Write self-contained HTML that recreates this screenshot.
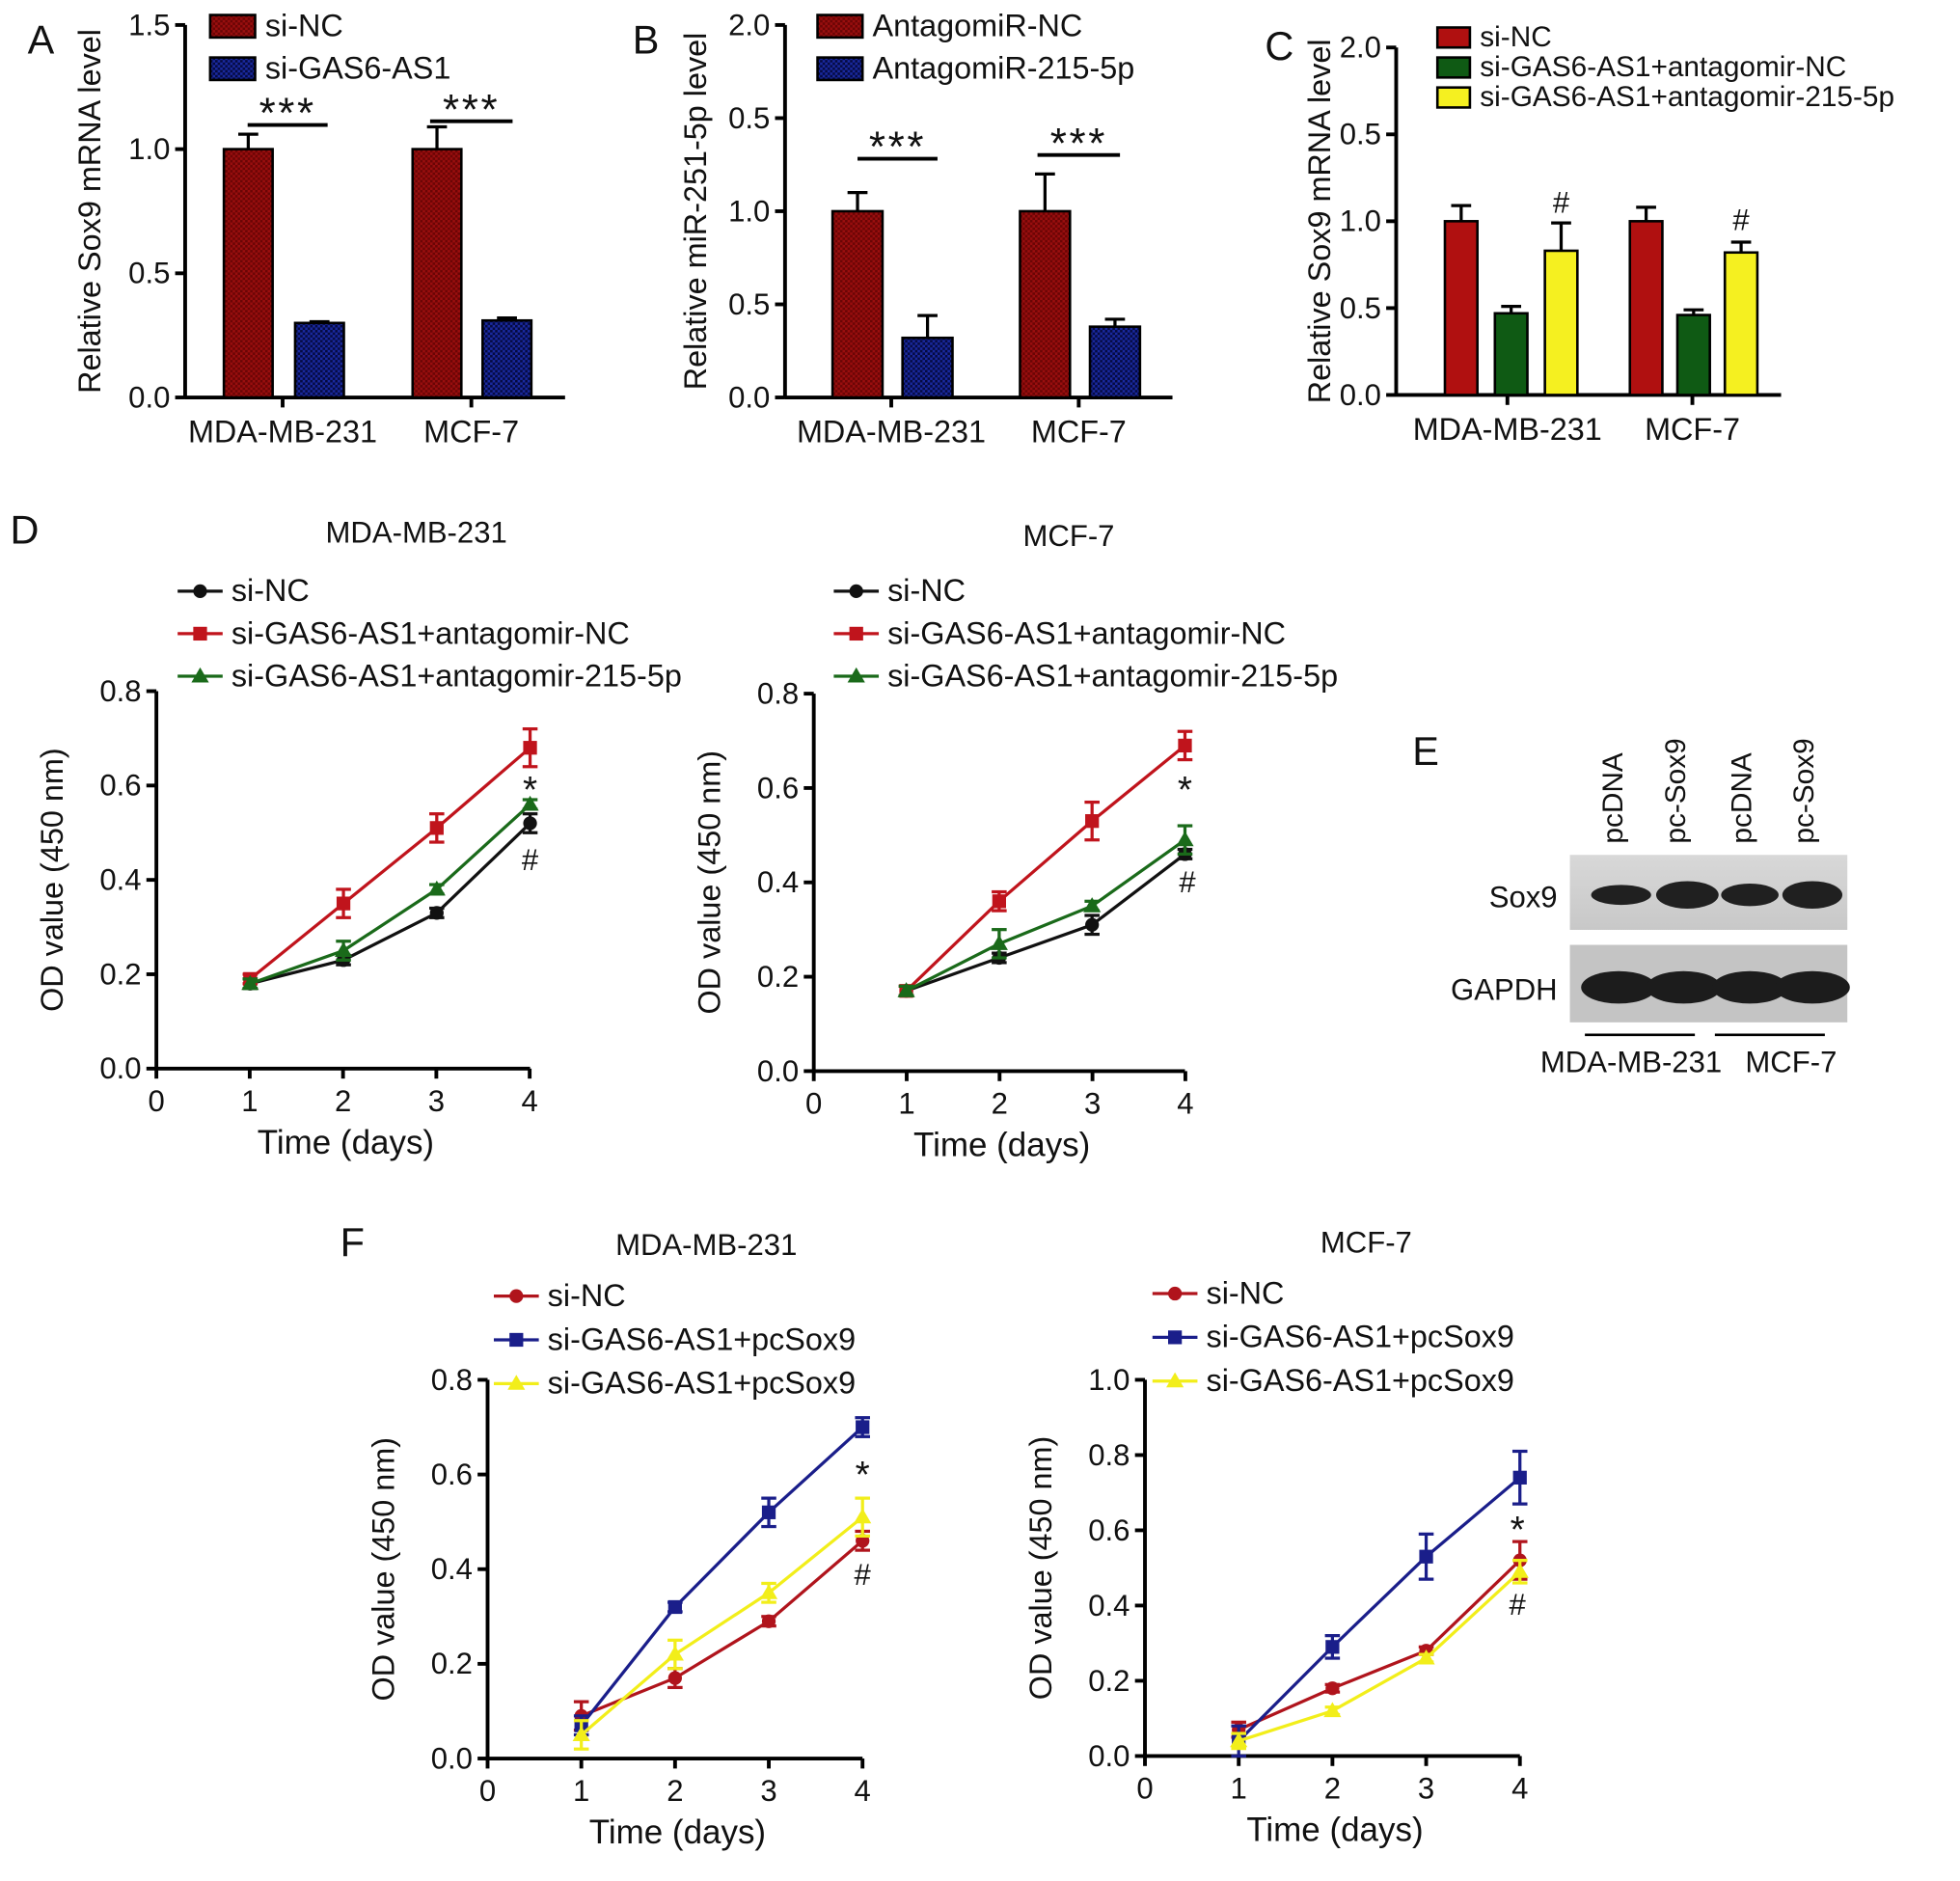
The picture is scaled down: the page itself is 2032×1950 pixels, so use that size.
<!DOCTYPE html>
<html><head><meta charset="utf-8"><style>
html,body{margin:0;padding:0;background:#fff;}
svg{display:block;font-family:"Liberation Sans",Arial,sans-serif;}
</style></head><body>
<svg id="fig" width="2032" height="1950" viewBox="0 0 1568 1505" xmlns="http://www.w3.org/2000/svg">
<defs>
<pattern id="hr" width="4" height="4" patternUnits="userSpaceOnUse"><rect width="4" height="4" fill="#9a0e0e"/><rect width="2" height="2" fill="#6a0505"/><rect x="2" y="2" width="2" height="2" fill="#6a0505"/></pattern>
<pattern id="hb" width="4" height="4" patternUnits="userSpaceOnUse"><rect width="4" height="4" fill="#1a2aa0"/><rect width="2" height="2" fill="#050a40"/><rect x="2" y="2" width="2" height="2" fill="#050a40"/></pattern>
<linearGradient id="blot" x1="0" y1="0" x2="0" y2="1"><stop offset="0" stop-color="#d8d8d8"/><stop offset="1" stop-color="#c8c8c8"/></linearGradient>
</defs>
<g id="root"></g>
</svg>
<script>
// ---- data ----
const barCats = ["MDA-MB-231","MCF-7"];
const aVals = [[1.0,0.30],[1.0,0.31]];
const aErr = [[0.06,0.005],[0.09,0.01]];
const bVals = [[1.0,0.32],[1.0,0.38]];
const bErr = [[0.10,0.12],[0.20,0.04]];
const cVals = [[1.0,0.47,0.83],[1.0,0.46,0.82]];
const cErr = [[0.09,0.04,0.16],[0.08,0.03,0.06]];
const days = [1,2,3,4];
const dL_nc = [0.18,0.23,0.33,0.52], dL_red=[0.19,0.35,0.51,0.68], dL_grn=[0.18,0.25,0.38,0.56];
const dL_ncE=[0.01,0.01,0.01,0.02], dL_redE=[0.01,0.03,0.03,0.04], dL_grnE=[0.01,0.02,0.01,0.01];
const dR_nc = [0.17,0.24,0.31,0.46], dR_red=[0.17,0.36,0.53,0.69], dR_grn=[0.17,0.27,0.35,0.49];
const dR_ncE=[0.01,0.01,0.02,0.01], dR_redE=[0.01,0.02,0.04,0.03], dR_grnE=[0.01,0.03,0.01,0.03];
const fL_nc=[0.09,0.17,0.29,0.46], fL_blu=[0.07,0.32,0.52,0.70], fL_yel=[0.05,0.22,0.35,0.51];
const fL_ncE=[0.03,0.02,0.01,0.02], fL_bluE=[0.02,0.01,0.03,0.02], fL_yelE=[0.03,0.03,0.02,0.04];
const fR_nc=[0.07,0.18,0.28,0.52], fR_blu=[0.04,0.29,0.53,0.74], fR_yel=[0.04,0.12,0.26,0.49];
const fR_ncE=[0.02,0.01,0.01,0.05], fR_bluE=[0.04,0.03,0.06,0.07], fR_yelE=[0.02,0.01,0.01,0.03];
// ---- helpers ----
const NS="http://www.w3.org/2000/svg";
const root=document.getElementById('root');
function el(tag,attrs,parent){const e=document.createElementNS(NS,tag);for(const k in attrs)e.setAttribute(k,attrs[k]);(parent||root).appendChild(e);return e;}
function txt(x,y,s,size,anchor,parent,extra){const t=el('text',Object.assign({x:x,y:y,'font-size':size,'text-anchor':anchor||'start',fill:'#111'},extra||{}),parent);t.textContent=s;return t;}
function line(x1,y1,x2,y2,w,c,parent){return el('line',{x1,y1,x2,y2,stroke:c||'#000','stroke-width':w||2},parent);}
function yAxis(g,x,y0,y1,ticks,labels,max,title,tx){
  line(x,y0+1,x,y1,3,'#000',g);
  ticks.forEach((v,i)=>{const y=y0-(y0-y1)*v/max;line(x-8,y,x,y,3,'#000',g);txt(x-12,y+8,labels[i],24,'end',g);});
  txt(tx,(y0+y1)/2,title,25,'middle',g,{transform:`rotate(-90 ${tx} ${(y0+y1)/2})`});
}
function barPanel(name,ax,y0,y1,xend,max,ticks,labels,vals,errs,fills,starts,w,labX,title,tx){
  const g=el('g',{});
  yAxis(g,ax,y0,y1,ticks,labels,max,title,tx);
  line(ax,y0,xend,y0,3,'#000',g);
  const sy=v=>y0-(y0-y1)*v/max;
  vals.forEach((grp,gi)=>grp.forEach((v,si)=>{
    const x=starts[gi][si];
    const top=sy(v+errs[gi][si]);
    line(x+w/2,sy(v),x+w/2,top,2.5,'#000',g);line(x+w/2-8,top,x+w/2+8,top,2.5,'#000',g);
    const r=el('rect',{x:x,y:sy(v),width:w,height:y0-sy(v),fill:fills[si],stroke:'#000','stroke-width':2},g);
    
  }));
  barCats.forEach((c,i)=>{line(labX[i],y0,labX[i],y0+8,3,'#000',g);txt(labX[i],y0+36,c,25,'middle',g);});
  return g;
}
function linePanel(name,ax,y0,y1,x1pos,x4pos,max,ticks,labels,series,colors,markers,errs){
  const g=el('g',{});
  const dx=(x4pos-x1pos)/3, sx=d=>x1pos+(d-1)*dx, sy=v=>y0-(y0-y1)*v/max;
  yAxis(g,ax,y0,y1,ticks,labels,max,'OD value (450 nm)',ax-75);
  line(ax,y0,x4pos,y0,3,'#000',g);
  [0,1,2,3,4].forEach(d=>{const x=ax+d*dx;line(x,y0,x,y0+8,3,'#000',g);txt(x,y0+34,String(d),24,'middle',g);});
  txt((ax+x4pos)/2+2,y0+68,'Time (days)',27,'middle',g);
  series.forEach((s,si)=>{
    const pts=days.map((d,i)=>sx(d)+','+sy(s[i])).join(' ');
    const p=el('polyline',{points:pts,fill:'none',stroke:colors[si],'stroke-width':2.5},g);
    
    days.forEach((d,i)=>{
      const x=sx(d),y=sy(s[i]),e=errs[si][i];
      line(x,sy(s[i]-e),x,sy(s[i]+e),2.5,colors[si],g);
      line(x-6,sy(s[i]+e),x+6,sy(s[i]+e),2.5,colors[si],g);line(x-6,sy(s[i]-e),x+6,sy(s[i]-e),2.5,colors[si],g);
      marker(g,markers[si],x,y,colors[si]);
    });
  });
  return {g,sx,sy};
}
function marker(g,m,x,y,c){
  if(m==='c')el('circle',{cx:x,cy:y,r:5.5,fill:c},g);
  else if(m==='s')el('rect',{x:x-5.5,y:y-5.5,width:11,height:11,fill:c},g);
  else el('polygon',{points:`${x},${y-7} ${x-7},${y+5} ${x+7},${y+5}`,fill:c},g);
}
function legend(g,x,y0,step,items,colors,markers,size){
  items.forEach((s,i)=>{const y=y0+i*step;line(x-18,y,x+18,y,2.5,colors[i],g);marker(g,markers[i],x,y,colors[i]);txt(x+25,y+8,s,size||25,'start',g);});
}
function boxLegend(g,x,y0,step,items,fills,w,h,size){
  items.forEach((s,i)=>{const y=y0+i*step;el('rect',{x:x,y:y,width:w,height:h,fill:fills[i],stroke:'#000','stroke-width':2},g);txt(x+w+8,y+h-1,s,size,'start',g);});
}
function sig(g,x1,x2,y,s){line(x1,y,x2,y,3,'#000',g);txt((x1+x2)/2,y+2,s,34,'middle',g,{'letter-spacing':'2'});}
// ---- Panel A ----
let g=barPanel('panel-a',148,318,20,452,1.5,[0,0.5,1,1.5],['0.0','0.5','1.0','1.5'],aVals,aErr,['url(#hr)','url(#hb)'],[[179,236],[330,386]],39,[226,377],'Relative Sox9 mRNA level',80);
boxLegend(g,168,12,34,['si-NC','si-GAS6-AS1'],['url(#hr)','url(#hb)'],36,18,25);
sig(g,198,262,100,'***');sig(g,344,410,97,'***');
txt(22,43,'A',32,'start');
// ---- Panel B ----
g=barPanel('panel-b',628,318,20,938,2,[0,0.5,1,1.5,2],['0.0','0.5','1.0','0.5','2.0'],bVals,bErr,['url(#hr)','url(#hb)'],[[666,722],[816,872]],40,[713,863],'Relative miR-251-5p level',565);
boxLegend(g,654,12,34,['AntagomiR-NC','AntagomiR-215-5p'],['url(#hr)','url(#hb)'],36,18,25);
sig(g,686,750,127,'***');sig(g,830,896,124,'***');
txt(506,43,'B',32,'start');
// ---- Panel C ----
g=barPanel('panel-c',1117,316,38,1425,2,[0,0.5,1,1.5,2],['0.0','0.5','1.0','0.5','2.0'],cVals,cErr,['#b01010','#0f5a14','#f5f020'],[[1156,1196,1236],[1304,1342,1380]],26,[1206,1354],'Relative Sox9 mRNA level',1064);
boxLegend(g,1150,22,24,['si-NC','si-GAS6-AS1+antagomir-NC','si-GAS6-AS1+antagomir-215-5p'],['#b01010','#0f5a14','#f5f020'],26,16,23);
txt(1249,170,'#',24,'middle',g);txt(1393,184,'#',24,'middle',g);
txt(1012,48,'C',32,'start');
// ---- Panel D ----
txt(8,435,'D',32,'start');
let r=linePanel('panel-d-mda',125,855,553,200,424,0.8,[0,0.2,0.4,0.6,0.8],['0.0','0.2','0.4','0.6','0.8'],[dL_nc,dL_red,dL_grn],['#111','#c0141c','#1a6a1a'],['c','s','t'],[dL_ncE,dL_redE,dL_grnE]);
txt(333,434,'MDA-MB-231',24,'middle',r.g);
legend(r.g,160,473,34,['si-NC','si-GAS6-AS1+antagomir-NC','si-GAS6-AS1+antagomir-215-5p'],['#111','#c0141c','#1a6a1a'],['c','s','t']);
txt(424,642,'*',30,'middle',r.g);txt(424,696,'#',24,'middle',r.g);
r=linePanel('panel-d-mcf7',651,857,555,725,948,0.8,[0,0.2,0.4,0.6,0.8],['0.0','0.2','0.4','0.6','0.8'],[dR_nc,dR_red,dR_grn],['#111','#c0141c','#1a6a1a'],['c','s','t'],[dR_ncE,dR_redE,dR_grnE]);
txt(855,437,'MCF-7',24,'middle',r.g);
legend(r.g,685,473,34,['si-NC','si-GAS6-AS1+antagomir-NC','si-GAS6-AS1+antagomir-215-5p'],['#111','#c0141c','#1a6a1a'],['c','s','t']);
txt(948,642,'*',30,'middle',r.g);txt(950,714,'#',24,'middle',r.g);
// ---- Panel E ----
g=el('g',{});
txt(1130,612,'E',32,'start',g);
[['pcDNA',1290],['pc-Sox9',1340],['pcDNA',1393],['pc-Sox9',1443]].forEach(([s,x])=>txt(x+8,675,s,23,'start',g,{transform:`rotate(-90 ${x+8} 675)`}));
el('rect',{x:1256,y:684,width:222,height:60,fill:'url(#blot)'},g);
el('rect',{x:1256,y:756,width:222,height:62,fill:'#c4c4c4'},g);
[[1297,48,8],[1350,50,11],[1400,46,9],[1450,48,11]].forEach(([x,w,h])=>el('ellipse',{cx:x,cy:716,rx:w/2,ry:h,fill:'#202020'},g));
[1295,1347,1400,1450].forEach(x=>el('ellipse',{cx:x,cy:790,rx:30,ry:13,fill:'#1c1c1c'},g));
txt(1246,726,'Sox9',24,'end',g);txt(1246,800,'GAPDH',24,'end',g);
line(1268,828,1356,828,2,'#000',g);line(1372,828,1460,828,2,'#000',g);
txt(1305,858,'MDA-MB-231',24,'middle',g);txt(1433,858,'MCF-7',24,'middle',g);
// ---- Panel F ----
txt(272,1005,'F',32,'start');
r=linePanel('panel-f-mda',390,1407,1104,465,690,0.8,[0,0.2,0.4,0.6,0.8],['0.0','0.2','0.4','0.6','0.8'],[fL_nc,fL_blu,fL_yel],['#b0141c','#1a1e8a','#f2ee1a'],['c','s','t'],[fL_ncE,fL_bluE,fL_yelE]);
txt(565,1004,'MDA-MB-231',24,'middle',r.g);
legend(r.g,413,1037,35,['si-NC','si-GAS6-AS1+pcSox9','si-GAS6-AS1+pcSox9'],['#b0141c','#1a1e8a','#f2ee1a'],['c','s','t']);
txt(690,1190,'*',30,'middle',r.g);txt(690,1268,'#',24,'middle',r.g);
r=linePanel('panel-f-mcf7',916,1405,1104,991,1216,1.0,[0,0.2,0.4,0.6,0.8,1.0],['0.0','0.2','0.4','0.6','0.8','1.0'],[fR_nc,fR_blu,fR_yel],['#b0141c','#1a1e8a','#f2ee1a'],['c','s','t'],[fR_ncE,fR_bluE,fR_yelE]);
txt(1093,1002,'MCF-7',24,'middle',r.g);
legend(r.g,940,1035,35,['si-NC','si-GAS6-AS1+pcSox9','si-GAS6-AS1+pcSox9'],['#b0141c','#1a1e8a','#f2ee1a'],['c','s','t']);
txt(1214,1234,'*',30,'middle',r.g);txt(1214,1292,'#',24,'middle',r.g);
</script>
</body></html>
